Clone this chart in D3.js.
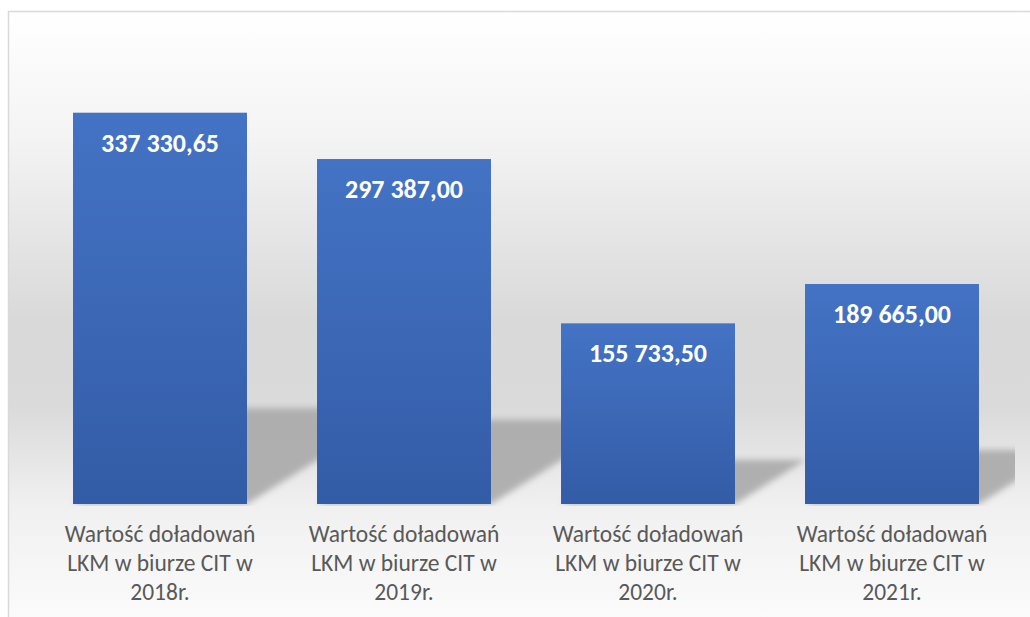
<!DOCTYPE html>
<html>
<head>
<meta charset="utf-8">
<script src="https://cdn.jsdelivr.net/npm/d3@7"></script>
<style>
  html, body { margin: 0; padding: 0; background: #ffffff; }
  svg { display: block; }
</style>
</head>
<body>
<svg id="chart" width="1030" height="617"></svg>
<script>
// Top-up values of LKM cards at the CIT office, per year
const categories = [
  "Wartość doładowań\nLKM w biurze CIT w\n2018r.",
  "Wartość doładowań\nLKM w biurze CIT w\n2019r.",
  "Wartość doładowań\nLKM w biurze CIT w\n2020r.",
  "Wartość doładowań\nLKM w biurze CIT w\n2021r."
];
const values = [337330.65, 297387.00, 155733.50, 189665.00];
const valueLabels = ["337 330,65", "297 387,00", "155 733,50", "189 665,00"];

const W = 1030, H = 617;
const svg = d3.select("#chart");
const defs = svg.append("defs");

// Chart background: white at the top, grey band behind the bars, light floor
const bg = defs.append("linearGradient").attr("id", "bgGrad")
  .attr("x1", 0).attr("y1", 0).attr("x2", 0).attr("y2", 1);
[["0%", "#ffffff"], ["20%", "#f4f4f4"], ["50%", "#d9d9d9"], ["64%", "#dadada"],
 ["80%", "#f0f0f0"], ["100%", "#fcfcfc"]]
  .forEach(([o, c]) => bg.append("stop").attr("offset", o).attr("stop-color", c));

// Bar fill
const barGrad = defs.append("linearGradient").attr("id", "barGrad")
  .attr("x1", 0).attr("y1", 0).attr("x2", 0).attr("y2", 1);
barGrad.append("stop").attr("offset", "0%").attr("stop-color", "#4473c5");
barGrad.append("stop").attr("offset", "100%").attr("stop-color", "#335ca6");

// Soft edge for the perspective shadows
const blur = defs.append("filter").attr("id", "shadowBlur")
  .attr("x", "-20%").attr("y", "-20%").attr("width", "140%").attr("height", "140%");
blur.append("feGaussianBlur").attr("stdDeviation", 3);

// Outer chart frame
svg.append("rect")
  .attr("x", 8.5).attr("y", 11.5).attr("width", W + 10).attr("height", H)
  .attr("fill", "url(#bgGrad)")
  .attr("stroke", "#d9d9d9").attr("stroke-width", 1.5);

// Plot area
const plot = { left: 38, right: 1014, top: 40, bottom: 504 };

const x = d3.scaleBand()
  .domain(categories)
  .range([plot.left, plot.right])
  .paddingInner(0.287)
  .paddingOuter(0.1435);

const y = d3.scaleLinear()
  .domain([0, 400000])
  .range([plot.bottom, plot.top]);

defs.append("clipPath").attr("id", "plotClip")
  .append("rect")
  .attr("x", plot.left).attr("y", plot.top)
  .attr("width", plot.right - plot.left + 1)
  .attr("height", plot.bottom - plot.top + 2);

const data = categories.map((c, i) => ({ cat: c, value: values[i], label: valueLabels[i] }));

// Perspective shadows cast up and to the right of every bar
const shadowScale = 0.245, shadowSkew = 1.6;
svg.append("g").attr("clip-path", "url(#plotClip)")
  .selectAll("path").data(data).join("path")
  .attr("d", d => {
    const x0 = x(d.cat), x1 = x0 + x.bandwidth();
    const base = y(0);
    const sh = (y(0) - y(d.value)) * shadowScale;
    const dx = sh * shadowSkew;
    return `M${x0},${base}L${x1},${base}L${x1 + dx},${base - sh}L${x0 + dx},${base - sh}Z`;
  })
  .attr("fill", "#a8a8a8")
  .attr("opacity", 0.88)
  .attr("filter", "url(#shadowBlur)");

// Bars
svg.append("g").selectAll("rect").data(data).join("rect")
  .attr("x", d => x(d.cat))
  .attr("y", d => y(d.value))
  .attr("width", x.bandwidth())
  .attr("height", d => y(0) - y(d.value))
  .attr("fill", "url(#barGrad)");

// Value labels inside the top of each bar
svg.append("g").selectAll("text").data(data).join("text")
  .attr("x", d => x(d.cat) + x.bandwidth() / 2)
  .attr("y", d => y(d.value) + 39)
  .attr("text-anchor", "middle")
  .attr("font-family", "Carlito, Calibri, Lato, sans-serif")
  .attr("font-weight", "bold")
  .attr("font-size", 26)
  .attr("fill", "#ffffff")
  .text(d => d.label);

// Category axis labels (no axis line or ticks)
const xAxis = d3.axisBottom(x).tickSize(0).tickFormat("");
const axisG = svg.append("g")
  .attr("transform", `translate(0,${plot.bottom})`)
  .call(xAxis);
axisG.select(".domain").remove();

axisG.selectAll(".tick").each(function (d) {
  const t = d3.select(this).append("text")
    .attr("text-anchor", "middle")
    .attr("font-family", "Carlito, Calibri, Lato, sans-serif")
    .attr("font-size", 23.5)
    .attr("fill", "#595959");
  d.split("\n").forEach((line, i) => {
    t.append("tspan").attr("x", 0).attr("y", 38 + i * 29).text(line);
  });
});
</script>
</body>
</html>
